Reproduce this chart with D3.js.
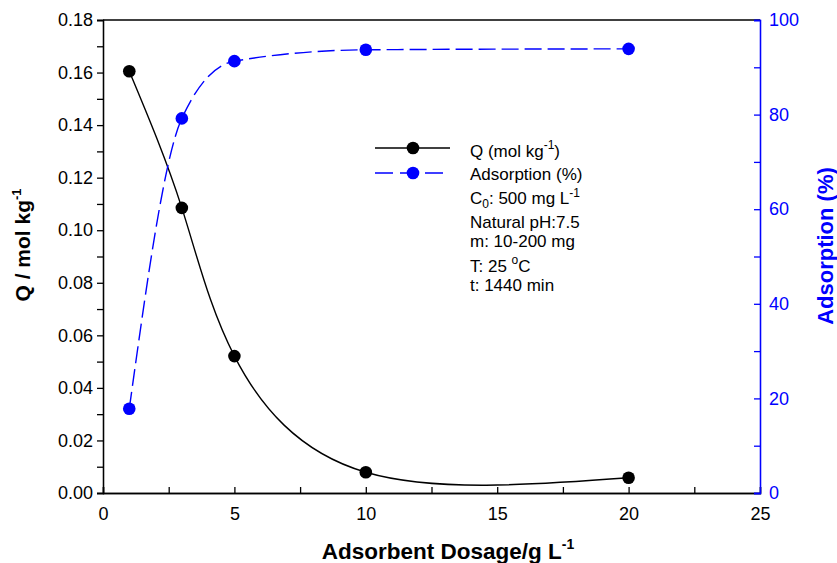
<!DOCTYPE html>
<html>
<head>
<meta charset="utf-8">
<script src="https://cdn.jsdelivr.net/npm/d3@7"></script>
<style>
  body { margin: 0; background: #fff; }
  svg { font-family: "Liberation Sans", Arial, sans-serif; }
</style>
</head>
<body>
<svg id="chart" width="837" height="563"></svg>
<script>
// data
const dosage = [1, 3, 5, 10, 20];
const qValues = [0.1605, 0.1085, 0.0521, 0.0079, 0.0058];
const adsorption = [17.8, 79.2, 91.3, 93.7, 93.9];

const xTicks = [0, 5, 10, 15, 20, 25];
const xMinor = [2.5, 7.5, 12.5, 17.5, 22.5];
const qTicks = [0, 0.02, 0.04, 0.06, 0.08, 0.1, 0.12, 0.14, 0.16, 0.18];
const qMinor = [0.01, 0.03, 0.05, 0.07, 0.09, 0.11, 0.13, 0.15, 0.17];
const aTicks = [0, 20, 40, 60, 80, 100];
const aMinor = [10, 30, 50, 70, 90];

const blue = "#0000ff";
const plotL = 103, plotR = 760, plotT = 20, plotB = 493;

const svg = d3.select("#chart");

const x = d3.scaleLinear().domain([0, 25]).range([plotL, plotR]);
const yQ = d3.scaleLinear().domain([0, 0.18]).range([plotB, plotT]);
const yA = d3.scaleLinear().domain([0, 100]).range([plotB, plotT]);

// top frame line
svg.append("line")
  .attr("x1", plotL).attr("x2", plotR)
  .attr("y1", plotT).attr("y2", plotT)
  .attr("stroke", "#000").attr("stroke-width", 1.3);

// x axis, ticks pointing inward
const gx = svg.append("g").attr("transform", `translate(0,${plotB})`);
gx.call(d3.axisBottom(x).tickValues(xTicks).tickSize(-6).tickPadding(14).tickFormat(d3.format("d")));
gx.append("g").call(d3.axisBottom(x).tickValues(xMinor).tickSize(-6).tickFormat(""));

// left axis
const gl = svg.append("g").attr("transform", `translate(${plotL},0)`);
gl.call(d3.axisLeft(yQ).tickValues(qTicks).tickSize(6).tickPadding(4).tickFormat(d3.format(".2f")));
gl.append("g").call(d3.axisLeft(yQ).tickValues(qMinor).tickSize(6).tickFormat(""));

// right axis (blue), ticks pointing inward
const gr = svg.append("g").attr("transform", `translate(${plotR},0)`);
gr.call(d3.axisRight(yA).tickValues(aTicks).tickSize(-6).tickPadding(9).tickFormat(d3.format("d")));
gr.append("g").call(d3.axisRight(yA).tickValues(aMinor).tickSize(-6).tickFormat(""));

[gx, gl, gr].forEach(g => {
  g.selectAll("path.domain").attr("stroke-width", 1.3);
  g.selectAll("line").attr("stroke-width", 1.3);
  g.selectAll("text").attr("font-size", 18).attr("font-family", "Liberation Sans, Arial, sans-serif").attr("fill", "#000");
});
gr.selectAll("path, line").attr("stroke", blue);
gr.selectAll("text").attr("fill", blue);
gx.selectAll("text").attr("dy", "0.71em");

// curves
const qLine = d3.line()
  .x((d, i) => x(dosage[i]))
  .y(d => yQ(d))
  .curve(d3.curveNatural);
const aLine = d3.line()
  .x((d, i) => x(dosage[i]))
  .y(d => yA(d))
  .curve(d3.curveMonotoneX);

svg.append("path").attr("d", qLine(qValues))
  .attr("fill", "none").attr("stroke", "#000").attr("stroke-width", 1.4);
svg.append("path").attr("d", aLine(adsorption))
  .attr("fill", "none").attr("stroke", blue).attr("stroke-width", 1.4)
  .attr("stroke-dasharray", "17,6");

svg.selectAll(".qdot").data(qValues).enter().append("circle")
  .attr("class", "qdot")
  .attr("cx", (d, i) => x(dosage[i])).attr("cy", d => yQ(d))
  .attr("r", 6.3).attr("fill", "#000");
svg.selectAll(".adot").data(adsorption).enter().append("circle")
  .attr("class", "adot")
  .attr("cx", (d, i) => x(dosage[i])).attr("cy", d => yA(d))
  .attr("r", 6.3).attr("fill", blue);

// axis titles
const xt = svg.append("text")
  .attr("x", 448).attr("y", 559)
  .attr("text-anchor", "middle")
  .attr("font-size", 22.5).attr("font-weight", "bold");
xt.append("tspan").text("Adsorbent Dosage/g L");
xt.append("tspan").attr("dy", -10).attr("font-size", 14).text("-1");

const yt = svg.append("text")
  .attr("transform", "translate(30,245) rotate(-90)")
  .attr("text-anchor", "middle")
  .attr("font-size", 21).attr("font-weight", "bold");
yt.append("tspan").text("Q / mol kg");
yt.append("tspan").attr("dy", -9).attr("font-size", 13).text("-1");

svg.append("text")
  .attr("transform", "translate(833,246) rotate(-90)")
  .attr("text-anchor", "middle")
  .attr("font-size", 22).attr("font-weight", "bold")
  .attr("fill", blue)
  .text("Adsorption (%)");

// legend
const lg = svg.append("g").attr("font-size", 17);
lg.append("line").attr("x1", 375).attr("x2", 450).attr("y1", 148).attr("y2", 148)
  .attr("stroke", "#000").attr("stroke-width", 1.4);
lg.append("circle").attr("cx", 413).attr("cy", 148).attr("r", 6.3).attr("fill", "#000");
lg.append("line").attr("x1", 375).attr("x2", 450).attr("y1", 173).attr("y2", 173)
  .attr("stroke", blue).attr("stroke-width", 1.4).attr("stroke-dasharray", "18,7");
lg.append("circle").attr("cx", 413).attr("cy", 173).attr("r", 6.3).attr("fill", blue);

const t1 = lg.append("text").attr("x", 470).attr("y", 157);
t1.append("tspan").text("Q (mol kg");
t1.append("tspan").attr("dy", -8).attr("font-size", 12).text("-1");
t1.append("tspan").attr("dy", 8).text(")");

lg.append("text").attr("x", 470).attr("y", 180).text("Adsorption (%)");

const t3 = lg.append("text").attr("x", 470).attr("y", 204);
t3.append("tspan").text("C");
t3.append("tspan").attr("dy", 4).attr("font-size", 12).text("0");
t3.append("tspan").attr("dy", -4).text(": 500 mg L");
t3.append("tspan").attr("dy", -7).attr("font-size", 12).text("-1");

lg.append("text").attr("x", 470).attr("y", 228).text("Natural pH:7.5");
lg.append("text").attr("x", 470).attr("y", 247).text("m: 10-200 mg");

const t6 = lg.append("text").attr("x", 470).attr("y", 272);
t6.append("tspan").text("T: 25 ");
t6.append("tspan").attr("dy", -8).attr("font-size", 12).text("o");
t6.append("tspan").attr("dy", 8).text("C");

lg.append("text").attr("x", 470).attr("y", 291).text("t: 1440 min");
</script>
</body>
</html>
